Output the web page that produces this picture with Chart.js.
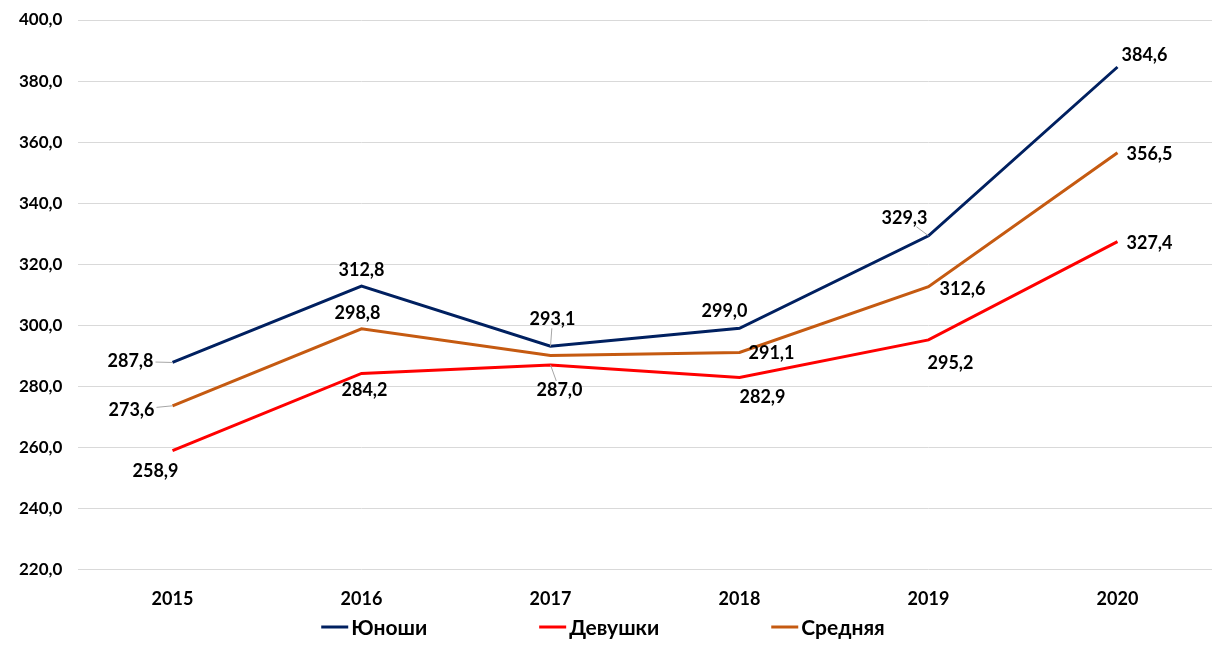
<!DOCTYPE html>
<html>
<head>
<meta charset="utf-8">
<script src="https://cdn.jsdelivr.net/npm/chart.js@4"></script>
<style>
  html, body { margin: 0; padding: 0; background: #fff; }
  #wrap { width: 1228px; height: 656px; }
</style>
</head>
<body>
<div id="wrap"><canvas id="myChart"></canvas></div>
<script>
const years = ['2015', '2016', '2017', '2018', '2019', '2020'];
const boys = [287.8, 312.8, 293.1, 299.0, 329.3, 384.6];
const girls = [258.9, 284.2, 287.0, 282.9, 295.2, 327.4];
const average = [273.6, 298.8, 290.1, 291.1, 312.6, 356.5];
const seriesNames = ['Юноши', 'Девушки', 'Средняя'];
const yMin = 220;
const yMax = 400;
const yStep = 20;

const colors = ['#002060', '#ff0000', '#c55a11'];
const FONT = 'Lato, "Noto Sans", sans-serif';

// label offsets (dx, dy from the point), null = no label; leader = thin grey line
const labelPos = [
  [[-42, -1, 1], [0, -16], [2, -27, 1], [-15, -17], [-24, -18, 1], [27, -12]],
  [[-17, 21], [3, 17], [9, 25, 1], [23, 20], [22, 23], [32, 2]],
  [[-41, 4, 1], [-4, -16], null, [32, 1], [34, 2], [32, 1]]
];

function fmt(v) {
  return v.toFixed(1).replace('.', ',');
}

const pointLabels = {
  id: 'pointLabels',
  afterDatasetsDraw(chart) {
    const ctx = chart.ctx;
    ctx.save();
    ctx.font = 'bold 18px ' + FONT;
    ctx.textAlign = 'center';
    ctx.textBaseline = 'middle';
    chart.data.datasets.forEach((ds, i) => {
      const meta = chart.getDatasetMeta(i);
      meta.data.forEach((pt, j) => {
        const p = labelPos[i][j];
        if (!p) return;
        const txt = fmt(ds.data[j]);
        const cx = pt.x + p[0], cy = pt.y + p[1];
        if (p[2]) {
          // leader line from label box edge to the point
          const hw = ctx.measureText(txt).width / 2 + 2, hh = 9;
          const dx = pt.x - cx, dy = pt.y - cy;
          const t = Math.min(Math.abs(dx) > 0 ? hw / Math.abs(dx) : 9, Math.abs(dy) > 0 ? hh / Math.abs(dy) : 9);
          ctx.strokeStyle = '#a6a6a6';
          ctx.lineWidth = 1;
          ctx.beginPath();
          ctx.moveTo(cx + dx * t, cy + dy * t);
          ctx.lineTo(pt.x, pt.y);
          ctx.stroke();
        }
        ctx.fillStyle = '#000';
        ctx.fillText(txt, cx, cy);
      });
    });
    ctx.restore();
  }
};

const bottomLegend = {
  id: 'bottomLegend',
  afterDraw(chart) {
    const ctx = chart.ctx;
    const sw = 27, gapIn = 3, gapOut = 112, y = 627;
    ctx.save();
    ctx.font = 'bold 21px ' + FONT;
    ctx.textBaseline = 'middle';
    ctx.textAlign = 'left';
    const widths = chart.data.datasets.map(ds => sw + gapIn + ctx.measureText(ds.label).width);
    const total = widths.reduce((a, b) => a + b, 0) + gapOut * (widths.length - 1);
    let x = 603 - total / 2;
    chart.data.datasets.forEach((ds, i) => {
      ctx.strokeStyle = ds.borderColor;
      ctx.lineWidth = 3;
      ctx.beginPath();
      ctx.moveTo(x, y);
      ctx.lineTo(x + sw, y);
      ctx.stroke();
      ctx.fillStyle = '#000';
      ctx.fillText(ds.label, x + sw + gapIn, y + 1);
      x += widths[i] + gapOut;
    });
    ctx.restore();
  }
};

const data = {
  labels: years,
  datasets: [boys, girls, average].map((arr, i) => ({
    label: seriesNames[i],
    data: arr,
    borderColor: colors[i],
    backgroundColor: colors[i],
    borderWidth: 3,
    pointRadius: 0,
    tension: 0
  }))
};

const config = {
  type: 'line',
  data: data,
  options: {
    responsive: true,
    maintainAspectRatio: false,
    animation: false,
    layout: { padding: { top: 20, right: 16, bottom: 27, left: 19 } },
    plugins: {
      legend: { display: false },
      tooltip: { enabled: false }
    },
    scales: {
      x: {
        offset: true,
        grid: { display: false, drawTicks: false },
        border: { display: false },
        ticks: { color: '#000', font: { family: FONT, size: 18, weight: 'bold' }, padding: 19 }
      },
      y: {
        min: yMin,
        max: yMax,
        afterFit: s => { s.width = 59; },
        grid: { color: '#d9d9d9', lineWidth: 1, drawTicks: false },
        border: { display: false },
        ticks: {
          stepSize: yStep,
          color: '#000',
          padding: 0,
          crossAlign: 'far',
          font: { family: FONT, size: 17, weight: 'bold' },
          callback: v => fmt(v)
        }
      }
    }
  },
  plugins: [pointLabels, bottomLegend]
};

const myChart = new Chart('myChart', config);
</script>
</body>
</html>
